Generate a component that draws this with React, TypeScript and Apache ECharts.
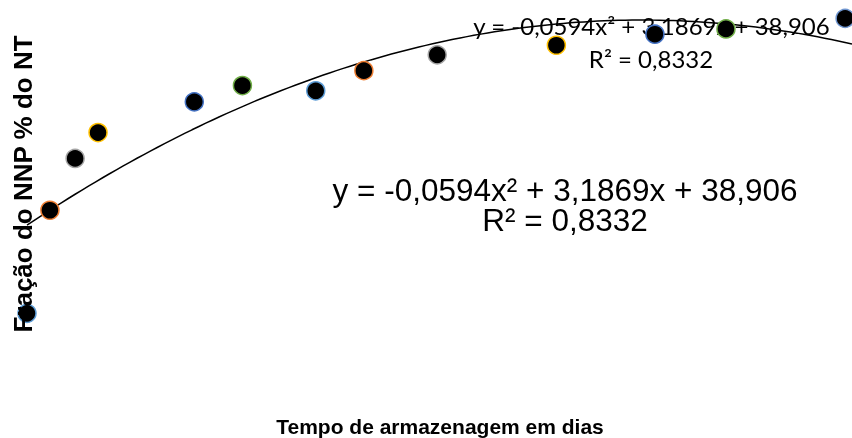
import React, { useEffect, useRef } from "react";
import * as echarts from "echarts";

// Storage time (days) and NNP fraction (% of NT)
const days = [0, 1, 2.1, 3.1, 7.3, 9.4, 12.6, 14.7, 17.9, 23.1, 27.4, 30.5, 35.7];
const nnp = [20.5, 42.0, 52.8, 58.2, 64.6, 68.0, 66.9, 71.1, 74.4, 76.4, 78.7, 79.8, 82.0];

// Quadratic trendline coefficients shown on the chart
const trendCoef = { a: -0.0594, b: 3.1869, c: 38.906 };
const trendLabel1 = "y = -0,0594x² + 3,1869x + 38,906";
const trendLabel2 = "R² = 0,8332";

const xTitle = "Tempo de armazenagem em dias";
const yTitle = "Fração do NNP % do NT";

const borderColors = [
  "#5B9BD5", "#ED7D31", "#A5A5A5", "#FFC000", "#4472C4", "#70AD47",
  "#5B9BD5", "#ED7D31", "#A5A5A5", "#FFC000", "#4472C4", "#70AD47", "#6F95CF",
];

export default function App() {
  const ref = useRef<HTMLDivElement>(null);
  useEffect(() => {
    if (!ref.current) return;
    const chart = echarts.init(ref.current, undefined, { renderer: "svg" });
    const xMin = days[0];
    const xMax = 36;
    const steps = 120;
    const trend: number[][] = [];
    for (let i = 0; i <= steps; i++) {
      const x = xMin + ((xMax - xMin) * i) / steps;
      trend.push([x, trendCoef.a * x * x + trendCoef.b * x + trendCoef.c]);
    }
    const scatterData = days.map((d, i) => ({
      value: [d, nnp[i]],
      itemStyle: { borderColor: borderColors[i % borderColors.length] },
    }));
    chart.setOption({
      animation: false,
      grid: { left: 27, top: 4, width: 829, height: 407.7 },
      xAxis: { type: "value", min: 0, max: 36, show: false },
      yAxis: { type: "value", min: 0, max: 85, show: false },
      series: [
        {
          type: "line",
          data: trend,
          showSymbol: false,
          symbol: "none",
          clip: false,
          lineStyle: { color: "#000", width: 1.5 },
          z: 2,
        },
        {
          type: "scatter",
          data: scatterData,
          symbol: "circle",
          symbolSize: 18,
          clip: false,
          itemStyle: { color: "#000", borderWidth: 1.5, opacity: 1 },
          z: 3,
        },
      ],
      graphic: [
        {
          type: "text",
          x: 22.5,
          y: 184,
          rotation: Math.PI / 2,
          z: 10,
          style: {
            text: yTitle,
            fontFamily: "Liberation Sans",
            fontWeight: "bold",
            fontSize: 26,
            fill: "#000",
            align: "center",
            verticalAlign: "middle",
          },
        },
        {
          type: "text",
          x: 440,
          y: 426,
          z: 10,
          style: {
            text: xTitle,
            fontFamily: "Liberation Sans",
            fontWeight: "bold",
            fontSize: 21,
            fill: "#000",
            align: "center",
            verticalAlign: "middle",
          },
        },
        {
          type: "text",
          x: 565,
          y: 190,
          z: 10,
          style: {
            text: trendLabel1,
            fontFamily: "Liberation Sans",
            fontSize: 31.5,
            fill: "#000",
            align: "center",
            verticalAlign: "middle",
          },
        },
        {
          type: "text",
          x: 565,
          y: 219.5,
          z: 10,
          style: {
            text: trendLabel2,
            fontFamily: "Liberation Sans",
            fontSize: 31.5,
            fill: "#000",
            align: "center",
            verticalAlign: "middle",
          },
        },
        {
          type: "text",
          x: 651.5,
          y: 25,
          z: 1,
          style: {
            text: trendLabel1,
            fontFamily: "Lato",
            fontSize: 24,
            fill: "#000",
            align: "center",
            verticalAlign: "middle",
          },
        },
        {
          type: "text",
          x: 651,
          y: 58.5,
          z: 1,
          style: {
            text: trendLabel2,
            fontFamily: "Lato",
            fontSize: 24,
            fill: "#000",
            align: "center",
            verticalAlign: "middle",
          },
        },
      ],
    });
    return () => chart.dispose();
  }, []);
  return (
    <div
      ref={ref}
      style={{ position: "fixed", left: 0, top: 0, width: 852, height: 438 }}
    />
  );
}
